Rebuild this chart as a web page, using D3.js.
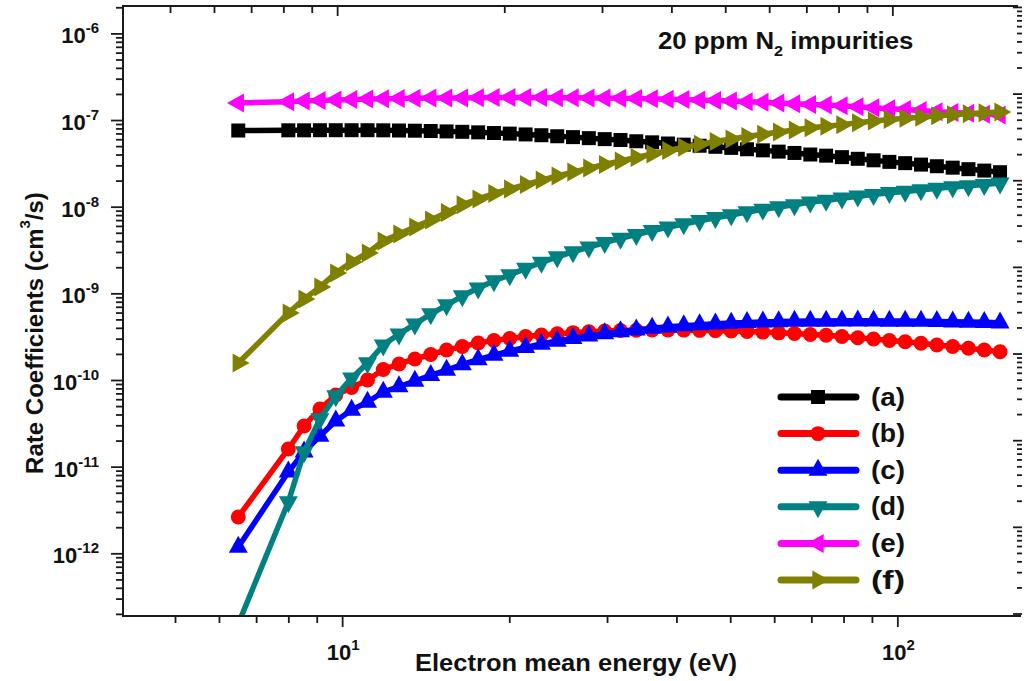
<!DOCTYPE html>
<html>
<head>
<meta charset="utf-8">
<script src="https://cdn.jsdelivr.net/npm/d3@7"></script>
<style>
  html, body { margin: 0; padding: 0; background: #fff; }
  svg text { font-family: "Liberation Sans", Arial, sans-serif; font-weight: bold; fill: #111; }
</style>
</head>
<body>
<svg id="chart" width="1024" height="681"></svg>
<script>
// Electron mean energy grid (eV)
const energy = [6.5, 8.00, 8.54, 9.12, 9.74, 10.40, 11.11, 11.86, 12.66, 13.52, 14.44, 15.42, 16.46, 17.58, 18.77,
  20.04, 21.40, 22.85, 24.40, 26.05, 27.82, 29.71, 31.72, 33.87, 36.17, 38.62, 41.24, 44.04, 47.02, 50.21,
  53.61, 57.25, 61.13, 65.27, 69.70, 74.42, 79.47, 84.86, 90.61, 96.75, 103.3, 110.3, 117.8, 125.8, 134.3, 143.4, 153.1];

// Rate coefficients (cm^3/s) for each reaction
const rateA = [7.57e-8, 7.61e-8, 7.61e-8, 7.63e-8, 7.63e-8, 7.63e-8, 7.63e-8, 7.61e-8, 7.57e-8, 7.53e-8, 7.47e-8, 7.39e-8,
  7.31e-8, 7.21e-8, 7.08e-8, 6.97e-8, 6.82e-8, 6.68e-8, 6.50e-8, 6.35e-8, 6.18e-8, 6.02e-8, 5.88e-8, 5.69e-8, 5.53e-8,
  5.36e-8, 5.20e-8, 5.05e-8, 4.91e-8, 4.77e-8, 4.60e-8, 4.47e-8, 4.32e-8, 4.17e-8, 4.00e-8, 3.88e-8, 3.73e-8, 3.57e-8,
  3.43e-8, 3.29e-8, 3.18e-8, 3.06e-8, 2.93e-8, 2.82e-8, 2.71e-8, 2.61e-8, 2.50e-8];
const rateB = [2.63e-12, 1.60e-11, 2.95e-11, 4.63e-11, 6.71e-11, 8.19e-11, 1.00e-10, 1.32e-10, 1.53e-10, 1.75e-10, 1.97e-10,
  2.22e-10, 2.43e-10, 2.67e-10, 2.85e-10, 3.01e-10, 3.17e-10, 3.30e-10, 3.42e-10, 3.52e-10, 3.60e-10, 3.67e-10, 3.72e-10,
  3.75e-10, 3.77e-10, 3.77e-10, 3.76e-10, 3.74e-10, 3.71e-10, 3.67e-10, 3.62e-10, 3.57e-10, 3.50e-10, 3.44e-10, 3.35e-10,
  3.28e-10, 3.18e-10, 3.07e-10, 2.97e-10, 2.86e-10, 2.76e-10, 2.66e-10, 2.54e-10, 2.43e-10, 2.33e-10, 2.22e-10, 2.12e-10];
const rateC = [1.18e-12, 8.69e-12, 1.48e-11, 2.26e-11, 3.37e-11, 4.51e-11, 5.57e-11, 7.27e-11, 8.41e-11, 9.74e-11, 1.13e-10,
  1.30e-10, 1.51e-10, 1.72e-10, 1.94e-10, 2.16e-10, 2.38e-10, 2.60e-10, 2.82e-10, 3.03e-10, 3.23e-10, 3.43e-10, 3.61e-10,
  3.79e-10, 3.96e-10, 4.11e-10, 4.24e-10, 4.35e-10, 4.46e-10, 4.54e-10, 4.62e-10, 4.68e-10, 4.73e-10, 4.77e-10, 4.79e-10,
  4.80e-10, 4.82e-10, 4.82e-10, 4.82e-10, 4.80e-10, 4.79e-10, 4.77e-10, 4.74e-10, 4.70e-10, 4.67e-10, 4.63e-10, 4.58e-10];
const rateD = [1.53e-13, 3.92e-12, 1.48e-11, 3.55e-11, 6.54e-11, 1.05e-10, 1.57e-10, 2.53e-10, 3.39e-10, 4.42e-10, 5.77e-10,
  7.33e-10, 9.31e-10, 1.15e-9, 1.39e-9, 1.63e-9, 1.94e-9, 2.27e-9, 2.63e-9, 3.00e-9, 3.41e-9, 3.84e-9, 4.30e-9, 4.77e-9,
  5.27e-9, 5.80e-9, 6.32e-9, 6.88e-9, 7.45e-9, 8.02e-9, 8.69e-9, 9.28e-9, 9.92e-9, 1.05e-8, 1.13e-8, 1.18e-8, 1.25e-8,
  1.32e-8, 1.38e-8, 1.45e-8, 1.50e-8, 1.56e-8, 1.63e-8, 1.69e-8, 1.74e-8, 1.80e-8, 1.87e-8];
const rateE = [1.57e-7, 1.63e-7, 1.66e-7, 1.68e-7, 1.70e-7, 1.72e-7, 1.75e-7, 1.76e-7, 1.77e-7, 1.78e-7, 1.79e-7, 1.79e-7,
  1.80e-7, 1.81e-7, 1.82e-7, 1.82e-7, 1.82e-7, 1.82e-7, 1.81e-7, 1.81e-7, 1.80e-7, 1.79e-7, 1.78e-7, 1.77e-7, 1.76e-7,
  1.74e-7, 1.72e-7, 1.70e-7, 1.68e-7, 1.66e-7, 1.63e-7, 1.60e-7, 1.575e-7, 1.545e-7, 1.51e-7, 1.49e-7, 1.46e-7, 1.42e-7,
  1.39e-7, 1.35e-7, 1.32e-7, 1.29e-7, 1.25e-7, 1.22e-7, 1.195e-7, 1.17e-7, 1.14e-7];
const rateF = [1.57e-10, 5.93e-10, 8.59e-10, 1.18e-9, 1.72e-9, 2.30e-9, 2.92e-9, 4.02e-9, 4.84e-9, 5.83e-9, 7.02e-9, 8.57e-9,
  1.05e-8, 1.23e-8, 1.42e-8, 1.60e-8, 1.80e-8, 2.03e-8, 2.26e-8, 2.51e-8, 2.79e-8, 3.07e-8, 3.37e-8, 3.69e-8, 4.05e-8,
  4.45e-8, 4.84e-8, 5.24e-8, 5.65e-8, 6.03e-8, 6.45e-8, 6.86e-8, 7.27e-8, 7.67e-8, 8.13e-8, 8.46e-8, 8.85e-8, 9.33e-8,
  9.74e-8, 1.013e-7, 1.05e-7, 1.08e-7, 1.12e-7, 1.15e-7, 1.18e-7, 1.21e-7, 1.24e-7];

const seriesLabels = ["(a)", "(b)", "(c)", "(d)", "(e)", "(f)"];
const seriesColors = ["#000000", "#ff0000", "#0000ff", "#008080", "#ff00ff", "#808000"];
const seriesMarkers = ["square", "circle", "up", "down", "left", "right"];
const seriesValues = [rateA, rateB, rateC, rateD, rateE, rateF];

// Axis tick labels (powers of ten)
const yTickExponents = [-12, -11, -10, -9, -8, -7, -6];
const xTickExponents = [1, 2];

const svg = d3.select("#chart");
const L = 123, R = 1021, T = 6, B = 616;

const x = d3.scaleLog().domain([4.03, 167]).range([L, R]);
const y = d3.scaleLog().domain([1.89e-13, 2.07e-6]).range([B, T]);
// mirror axes on top and right
const xTop = d3.scaleLog().domain([4.03 / 0.9795, 167 / 0.9795]).range([L, R]);
const yRight = d3.scaleLog().domain([1.89e-13 / 2.02, 2.07e-6 / 2.02]).range([B, T]);

function logTicks(scale) {
  const [a, b] = scale.domain();
  const out = [];
  for (let e = Math.floor(Math.log10(a)); e <= Math.ceil(Math.log10(b)); e++) {
    for (let m = 1; m <= 9; m++) {
      const v = m * Math.pow(10, e);
      if (v >= a && v <= b) out.push(v);
    }
  }
  return out;
}
const isMajor = v => Math.abs(Math.log10(v) - Math.round(Math.log10(v))) < 1e-9;

function drawAxis(axisFn, scale, transform, majorLen, minorLen) {
  const ticks = logTicks(scale);
  const majors = ticks.filter(isMajor), minors = ticks.filter(v => !isMajor(v));
  [[majors, majorLen], [minors, minorLen]].forEach(([vals, len]) => {
    const g = svg.append("g").attr("transform", transform)
      .call(axisFn(scale).tickValues(vals).tickSize(len).tickFormat(""));
    g.select(".domain").remove();
    g.selectAll(".tick line").attr("stroke", "#1a1a1a").attr("stroke-width", 1.8);
  });
}

drawAxis(d3.axisLeft, y, `translate(${L},0)`, 12, 7);
drawAxis(d3.axisBottom, x, `translate(0,${B})`, 11, 7);
drawAxis(d3.axisBottom, xTop, `translate(0,${T})`, 10, 7);
drawAxis(d3.axisLeft, yRight, `translate(${R + 1},0)`, 9, 5);

// frame
const frame = svg.append("g").attr("stroke", "#1a1a1a").attr("stroke-width", 2).attr("fill", "none");
frame.append("line").attr("x1", L).attr("x2", L).attr("y1", T - 1).attr("y2", B + 1);
frame.append("line").attr("x1", L).attr("x2", R).attr("y1", B).attr("y2", B);
frame.append("line").attr("x1", L).attr("x2", R - 3).attr("y1", T).attr("y2", T);

// tick labels
yTickExponents.forEach(e => {
  const t = svg.append("text").attr("x", 99).attr("y", y(Math.pow(10, e)) + 10).attr("text-anchor", "end");
  t.append("tspan").attr("font-size", 22).text("10");
  t.append("tspan").attr("font-size", 15).attr("dy", -10).text(String(e));
});
xTickExponents.forEach(e => {
  const t = svg.append("text").attr("x", x(Math.pow(10, e)) + 1).attr("y", 660).attr("text-anchor", "middle");
  t.append("tspan").attr("font-size", 22).text("10");
  t.append("tspan").attr("font-size", 15).attr("dy", -10).text(String(e));
});

// axis titles
svg.append("text").attr("x", 576).attr("y", 671).attr("text-anchor", "middle")
  .attr("font-size", 23).attr("textLength", 322).attr("lengthAdjust", "spacingAndGlyphs")
  .text("Electron mean energy (eV)");

const yt = svg.append("text").attr("transform", "translate(43,333) rotate(-90)").attr("text-anchor", "middle");
yt.append("tspan").attr("font-size", 24).text("Rate Coefficients (cm");
yt.append("tspan").attr("font-size", 15).attr("dy", -13).text("3");
yt.append("tspan").attr("font-size", 24).attr("dy", 13).text("/s)");

// annotation
const ann = svg.append("g").attr("transform", "translate(658,49) scale(1.075,1)").append("text");
ann.append("tspan").attr("font-size", 24).text("20 ppm N");
ann.append("tspan").attr("font-size", 15).attr("dy", 7).text("2");
ann.append("tspan").attr("font-size", 24).attr("dy", -7).text(" impurities");

// marker shapes
function markerPath(kind) {
  if (kind === "square") return "M-7,-7H7V7H-7Z";
  if (kind === "circle") return d3.symbol(d3.symbolCircle, 175)();
  const w = 19, len = 17;   // base width and tip-to-base length
  const base = [[0, -len * 2 / 3], [w / 2, len / 3], [-w / 2, len / 3]];
  const ang = { up: 0, right: 90, down: 180, left: 270 }[kind] * Math.PI / 180;
  const pts = base.map(([px, py]) => [px * Math.cos(ang) - py * Math.sin(ang), px * Math.sin(ang) + py * Math.cos(ang)]);
  return "M" + pts.map(p => p[0].toFixed(2) + "," + p[1].toFixed(2)).join("L") + "Z";
}

// plot area clipping
svg.append("defs").append("clipPath").attr("id", "plotClip")
  .append("rect").attr("x", L + 1).attr("y", T + 1).attr("width", R - L).attr("height", B - T - 2);

const plot = svg.append("g").attr("clip-path", "url(#plotClip)");
const line = d3.line().x(d => x(d[0])).y(d => y(d[1]));

seriesValues.forEach((vals, i) => {
  const pts = energy.map((e, j) => [e, vals[j]]);
  const g = plot.append("g");
  g.append("path").datum(pts).attr("d", line)
    .attr("fill", "none").attr("stroke", seriesColors[i]).attr("stroke-width", 5.5)
    .attr("stroke-linejoin", "round").attr("stroke-linecap", "round");
  const mp = markerPath(seriesMarkers[i]);
  g.selectAll("path.mk").data(pts).join("path").attr("class", "mk")
    .attr("d", mp).attr("transform", d => `translate(${x(d[0])},${y(d[1])})`)
    .attr("fill", seriesColors[i]);
});

// legend
const legend = svg.append("g");
seriesLabels.forEach((lab, i) => {
  const cy = 397 + i * 36.6;
  legend.append("line").attr("x1", 781).attr("x2", 856).attr("y1", cy).attr("y2", cy)
    .attr("stroke", seriesColors[i]).attr("stroke-width", 7).attr("stroke-linecap", "round");
  legend.append("path").attr("d", markerPath(seriesMarkers[i]))
    .attr("transform", `translate(818,${cy})`).attr("fill", seriesColors[i]);
  legend.append("text").attr("x", 871).attr("y", cy + 8.5).attr("font-size", 25)
    .attr("textLength", 34).attr("lengthAdjust", "spacingAndGlyphs").text(lab);
});
</script>
</body>
</html>
